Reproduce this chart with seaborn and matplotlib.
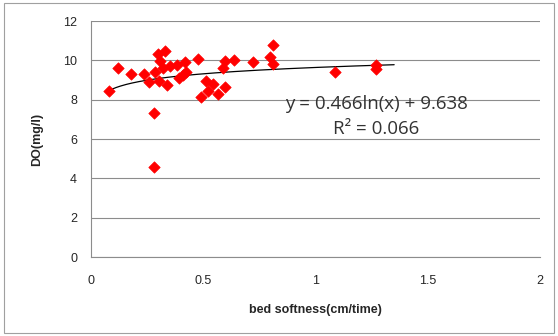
import numpy as np
import pandas as pd
import seaborn as sns
import matplotlib.pyplot as plt
from matplotlib.patches import Rectangle

# 데이터
softness = [0.082, 0.119, 0.179, 0.238, 0.260, 0.284, 0.281, 0.281, 0.300, 0.330,
            0.308, 0.323, 0.305, 0.338, 0.353, 0.383, 0.394, 0.417, 0.424, 0.412,
            0.475, 0.513, 0.490, 0.521, 0.543, 0.566, 0.595, 0.588, 0.598, 0.638,
            0.722, 0.796, 0.810, 0.810, 1.085, 1.268, 1.268]
do_val = [8.43, 9.60, 9.31, 9.31, 8.91, 9.43, 7.31, 4.59, 10.33, 10.50,
          9.95, 9.60, 8.94, 8.77, 9.69, 9.77, 9.08, 9.90, 9.43, 9.25,
          10.07, 8.94, 8.13, 8.46, 8.81, 8.29, 8.65, 9.60, 9.95, 10.03,
          9.91, 10.16, 10.78, 9.81, 9.39, 9.77, 9.56]

# 추세선 계수 (로그 회귀)
coef_a = 0.466
coef_b = 9.638
r2 = 0.066
trend_range = [0.08, 1.35]

df = pd.DataFrame({'softness': softness, 'DO': do_val})

sns.set_style('white')
plt.rcParams['font.family'] = ['Liberation Sans', 'DejaVu Sans']

fig = plt.figure(figsize=(5.58, 3.36), dpi=100)
ax = fig.add_axes([0.163, 0.235, 0.805, 0.7025])

# 산점도
sns.scatterplot(data=df, x='softness', y='DO', marker='D', color='#ff0000',
                edgecolor='#ff0000', s=34, ax=ax, zorder=3)

# 로그 추세선
xs = np.linspace(trend_range[0], trend_range[1], 200)
ys = coef_a * np.log(xs) + coef_b
sns.lineplot(x=xs, y=ys, color='black', linewidth=0.9, ax=ax, zorder=2)

ax.set_xlim(0, 2)
ax.set_ylim(0, 12)
ax.set_xticks([0, 0.5, 1, 1.5, 2])
ax.set_xticklabels(['0', '0.5', '1', '1.5', '2'])
ax.set_yticks(range(0, 13, 2))
ax.yaxis.grid(True, color='#8c8c8c', linewidth=0.8)
ax.set_axisbelow(True)
for s in ['top', 'right']:
    ax.spines[s].set_visible(False)
for s in ['left', 'bottom']:
    ax.spines[s].set_color('#8c8c8c')
    ax.spines[s].set_linewidth(0.8)
ax.tick_params(axis='both', direction='out', length=4, width=0.8,
               color='#8c8c8c', labelsize=9, pad=6)
ax.tick_params(axis='x', pad=9)

ax.set_xlabel('bed softness(cm/time)', fontsize=9, fontweight='bold', labelpad=12)
ax.set_ylabel('DO(mg/l)', fontsize=9, fontweight='bold', labelpad=14)

# 추세선 수식
ax.text(1.27, 7.8, 'y = %.3fln(x) + %.3f' % (coef_a, coef_b), fontsize=13.5,
        ha='center', va='center', family=['Open Sans', 'DejaVu Sans'], color='#333333')
ax.text(1.27, 6.5, 'R² = %.3f' % r2, fontsize=13.5,
        ha='center', va='center', family=['Open Sans', 'DejaVu Sans'], color='#333333')

# 차트 테두리
fig.patches.append(Rectangle((0.008, 0.008), 0.984, 0.984, transform=fig.transFigure,
                             fill=False, edgecolor='#a0a0a0', linewidth=0.8))

fig.savefig('out.png', dpi=100)
